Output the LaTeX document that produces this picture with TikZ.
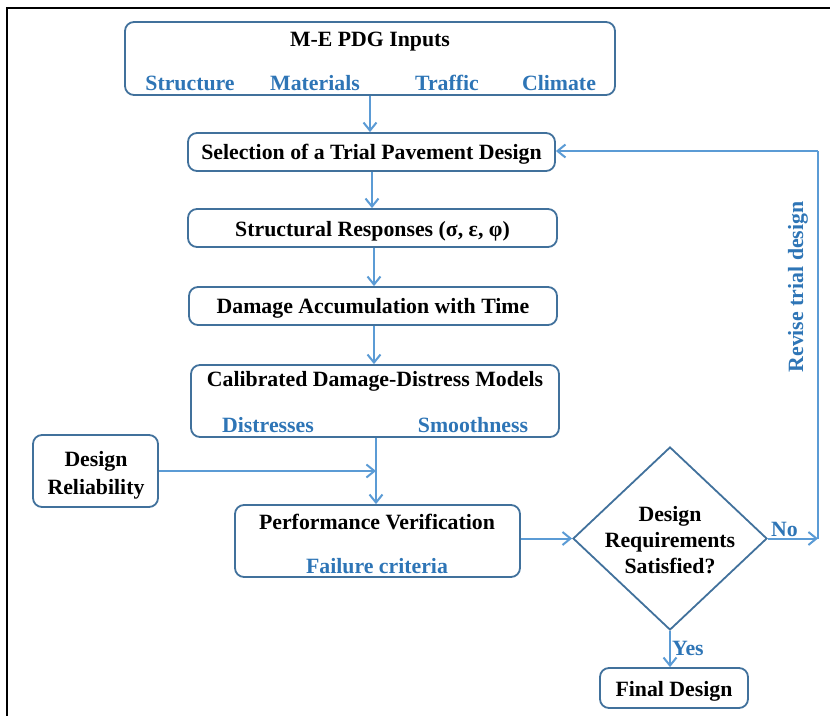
\documentclass[tikz,border=0pt]{standalone}
\usepackage{fontspec}
\setmainfont{Liberation Serif}
\usetikzlibrary{arrows.meta,shapes.geometric}
\definecolor{boxblue}{HTML}{41719C}
\definecolor{arrowblue}{HTML}{5B9BD5}
\definecolor{textblue}{HTML}{2E75B6}
\tikzset{
  box/.style={draw=boxblue, line width=1.8pt, rounded corners=9pt, rectangle, inner sep=0pt},
  lbl/.style={font=\bfseries\fontsize{21.8}{24}\selectfont, inner sep=0pt, text=black},
  blbl/.style={font=\bfseries\fontsize{21.8}{24}\selectfont, inner sep=0pt, text=textblue},
  conn/.style={draw=arrowblue, line width=2pt, -{Straight Barb[length=8pt,width=13pt]}},
  plain/.style={draw=arrowblue, line width=2pt},
}
\begin{document}
\begin{tikzpicture}[x=1pt,y=-1pt]
\useasboundingbox (0,0) rectangle (830,715);
% frame
\draw[black, line width=2.2pt] (7,716) -- (7,8) -- (831,8);
% inputs
\node[box, minimum width=490pt, minimum height=73pt] (inp) at (370,58.5) {};
\node[lbl] (inpT) at (370,42) {M-E PDG Inputs};
\node[blbl] (s1) at (190,83) {Structure};
\node[blbl] (s2) at (315,83) {Materials};
\node[blbl] (s3) at (447,83) {Traffic};
\node[blbl] (s4) at (559,83) {Climate};
% trial
\node[box, minimum width=367pt, minimum height=38pt] (trial) at (371.5,152) {};
\node[lbl] (trialT) at (371.5,154) {Selection of a Trial Pavement Design};
% structural
\node[box, minimum width=369pt, minimum height=38pt] (str) at (372.5,228) {};
\node[lbl] (strT) at (372.5,231) {Structural Responses (σ, ε, φ)};
% damage
\node[box, minimum width=368pt, minimum height=38pt] (dam) at (373,306) {};
\node[lbl] (damT) at (373,308) {Damage Accumulation with Time};
% calibrated
\node[box, minimum width=368pt, minimum height=72pt] (cal) at (375,401) {};
\node[lbl] (calT) at (375,381) {Calibrated Damage-Distress Models};
\node[blbl] (c1) at (268,425) {Distresses};
\node[blbl] (c2) at (473,425) {Smoothness};
% reliability
\node[box, minimum width=125pt, minimum height=72pt] (rel) at (95.5,471) {};
\node[lbl, align=center] (relT) at (96,475) {Design\\[4pt]Reliability};
% performance
\node[box, minimum width=285pt, minimum height=72pt] (perf) at (377.5,541) {};
\node[lbl] (perfT) at (377,522) {Performance Verification};
\node[blbl] (perfS) at (377,566) {Failure criteria};
% diamond
\node[draw=boxblue, line width=1.8pt, diamond, aspect=1.06, minimum width=194pt, minimum height=183pt, inner sep=0pt] (dia) at (670,538.5) {};
\node[lbl, align=center] (diaT) at (670,540) {Design\\[2pt]Requirements\\[2pt]Satisfied?};
% final
\node[box, minimum width=148pt, minimum height=40pt] (fin) at (674,688) {};
\node[lbl] (finT) at (674,691) {Final Design};
% connectors
\draw[conn] (inp.south -| 370,0) -- (trial.north -| 370,0);
\draw[conn] (trial.south -| 372,0) -- (str.north -| 372,0);
\draw[conn] (str.south -| 374,0) -- (dam.north -| 374,0);
\draw[conn] (dam.south -| 374,0) -- (cal.north -| 374,0);
\coordinate (mj) at (376,471);
\draw[conn] (cal.south -| 376,0) -- (perf.north -| 376,0);
\draw[conn] (rel.east |- mj) -- (mj);
\draw[conn] (perf.east |- dia.west) -- (dia.west);
\coordinate (nr) at (818,538.5);
\coordinate (nt) at (818,151);
\draw[conn] (dia.east) -- (nr);
\draw[plain] (nr) -- (nt);
\draw[conn] (nt) -- (trial.east |- nt);
\draw[conn] (dia.south) -- (fin.north -| dia.south);
\node[blbl, anchor=south west] (no) at (771,537) {No};
\node[blbl, anchor=west] (yes) at (672,648) {Yes};
\node[blbl, rotate=90] (rev) at (798,287) {Revise trial design};
\end{tikzpicture}
\end{document}
